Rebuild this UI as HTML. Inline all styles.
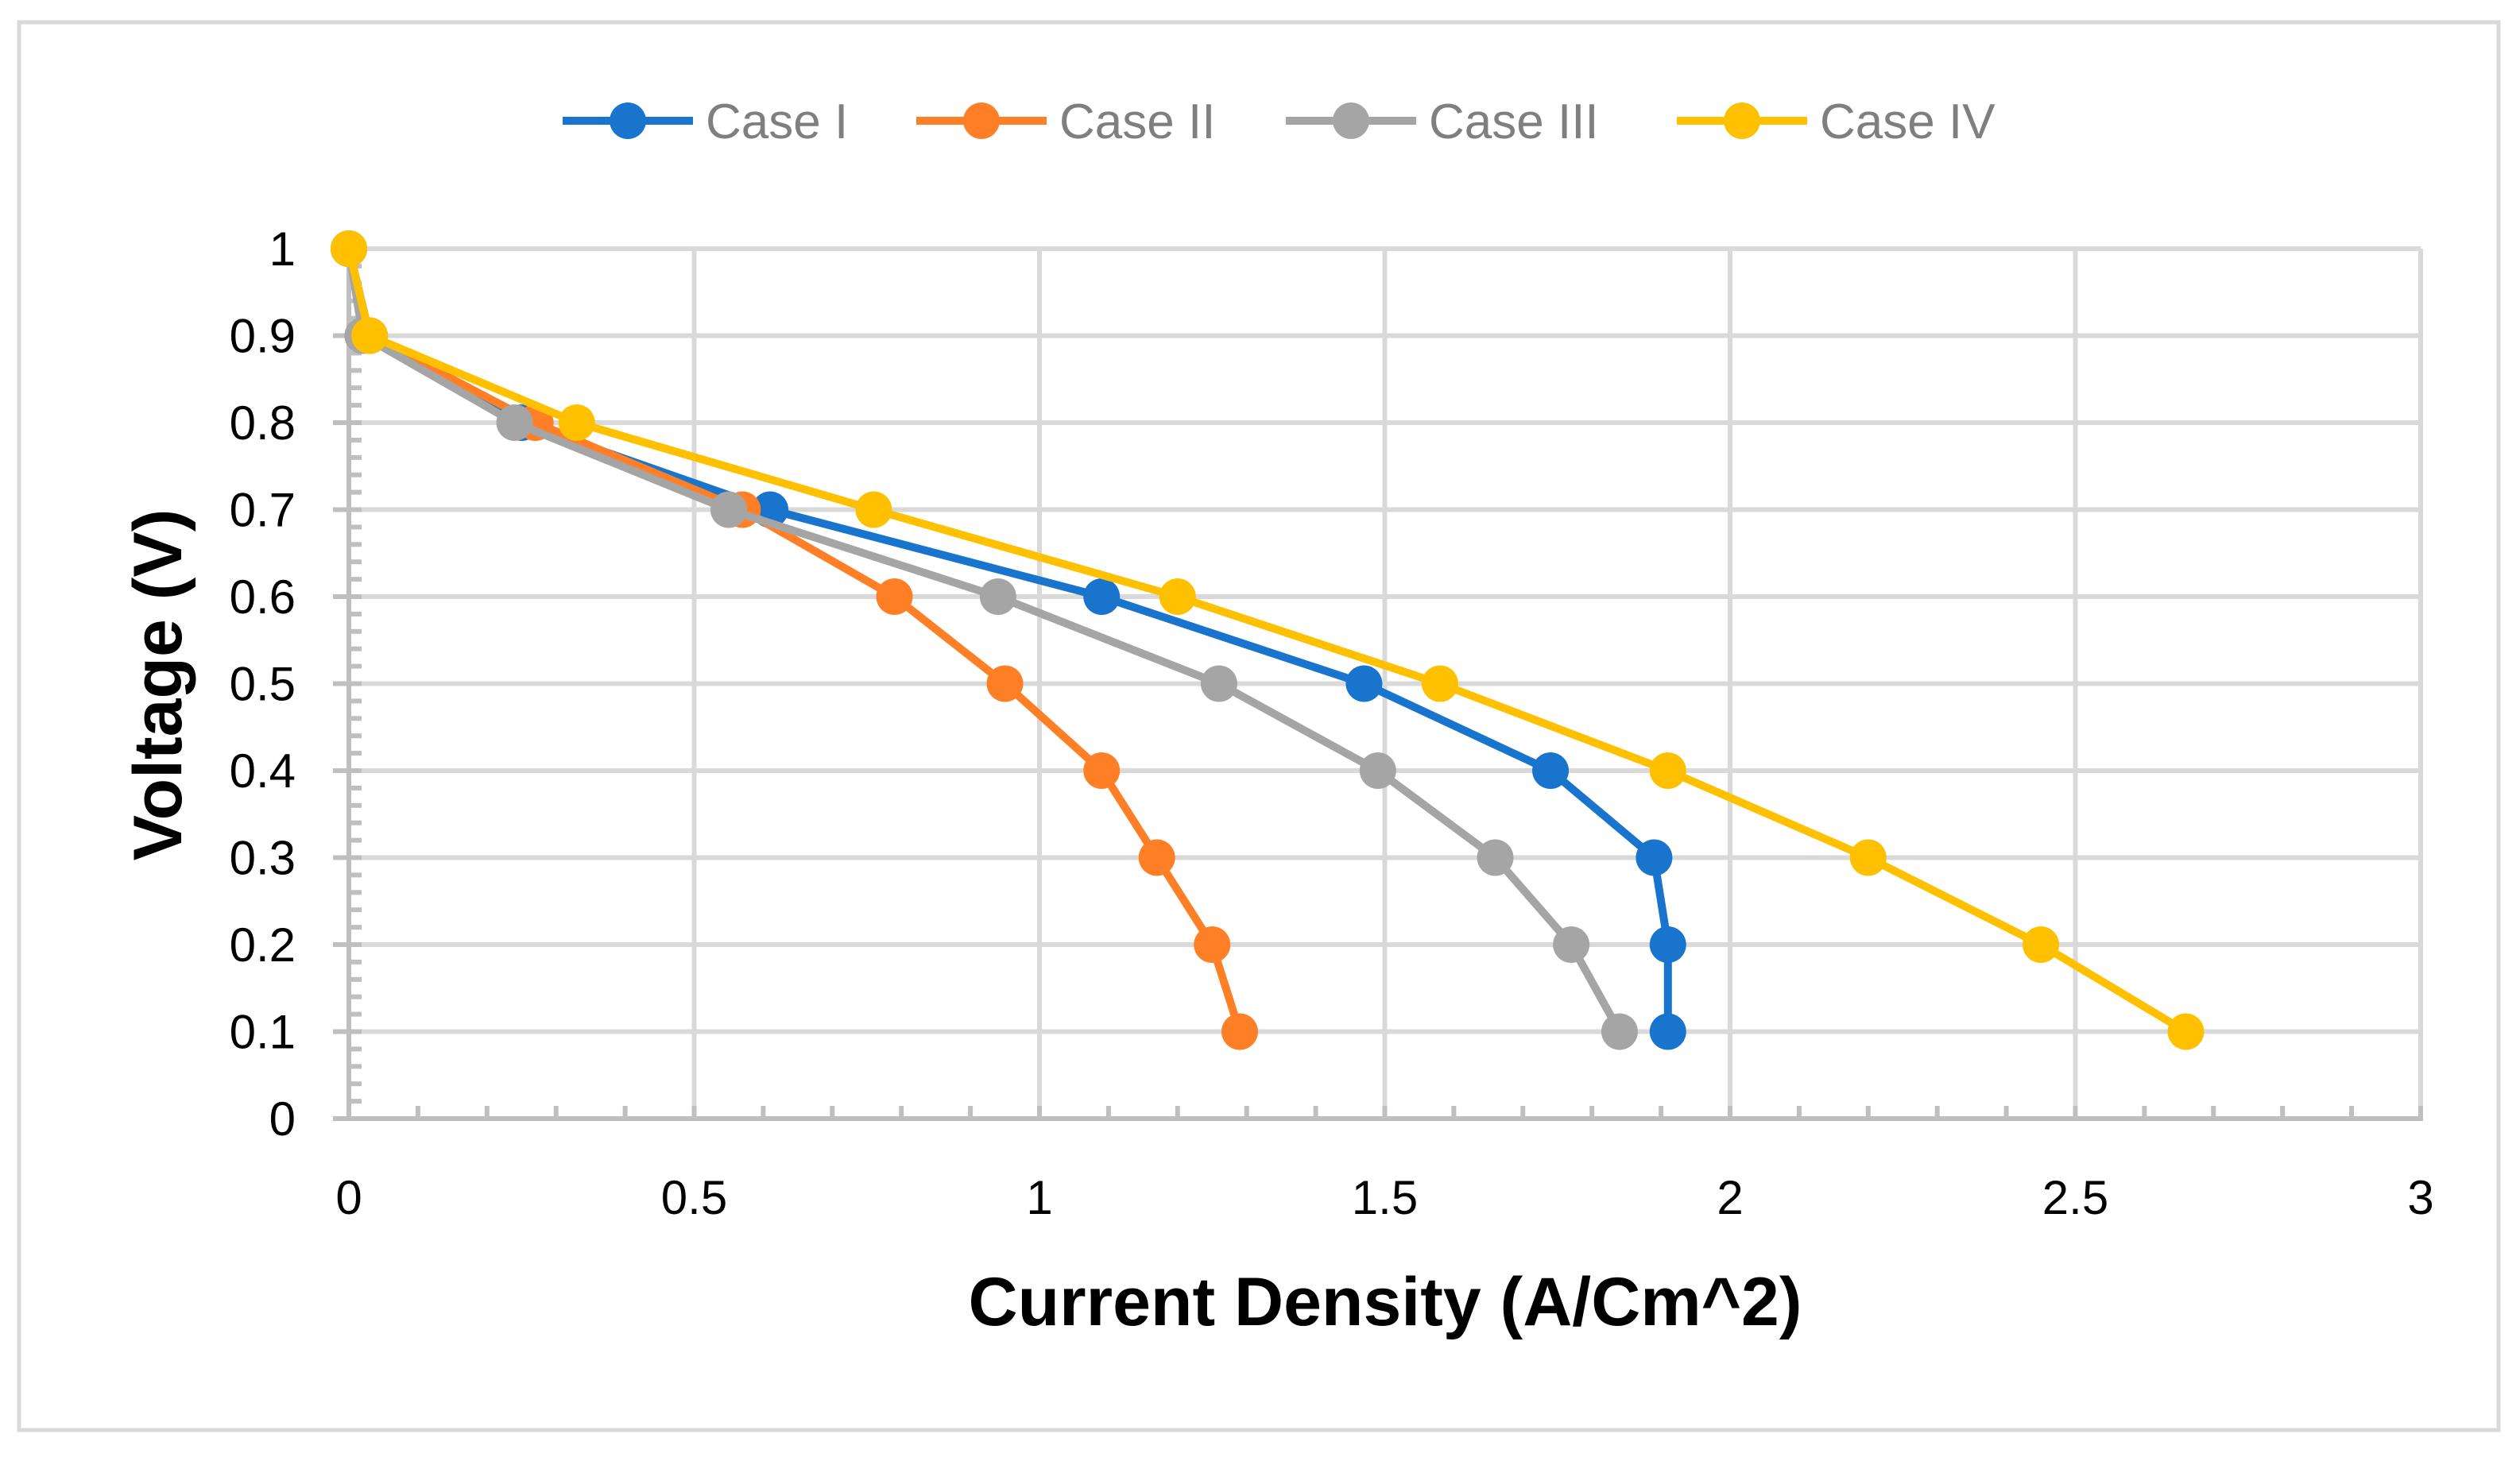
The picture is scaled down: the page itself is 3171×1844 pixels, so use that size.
<!DOCTYPE html>
<html><head><meta charset="utf-8"><style>
html,body{margin:0;padding:0;background:#fff}
svg{display:block}
text{font-family:"Liberation Sans",sans-serif}
</style></head><body>
<svg id="chart" width="3171" height="1844" viewBox="0 0 3171 1844" xmlns="http://www.w3.org/2000/svg">
<rect x="24" y="28" width="3120" height="1772" fill="#fff" stroke="#d9d9d9" stroke-width="5"/>
<g id="grid"></g>
<g id="axes"></g>
<g id="series"></g>
<g id="legend"></g>
<text x="1743" y="1668" font-size="86" font-weight="bold" text-anchor="middle" fill="#000">Current Density (A/Cm^2)</text>
<text transform="translate(228,862) rotate(-90)" font-size="86" font-weight="bold" text-anchor="middle" fill="#000">Voltage (V)</text>
</svg>
<script>
const seriesNames = ["Case I","Case II","Case III","Case IV"];
const seriesColors = ["#1874cd","#ff7f27","#a5a5a5","#ffc000"];
const voltages = [1,0.9,0.8,0.7,0.6,0.5,0.4,0.3,0.2,0.1];
const caseI = [0,0.03,0.25,0.61,1.09,1.47,1.74,1.89,1.91,1.91];
const caseII = [0,0.03,0.27,0.57,0.79,0.95,1.09,1.17,1.25,1.29];
const caseIII = [0,0.02,0.24,0.55,0.94,1.26,1.49,1.66,1.77,1.84];
const caseIV = [0,0.03,0.33,0.76,1.2,1.58,1.91,2.2,2.45,2.66];
const xTicks = ["0","0.5","1","1.5","2","2.5","3"];
const yTicks = ["0","0.1","0.2","0.3","0.4","0.5","0.6","0.7","0.8","0.9","1"];

const NS="http://www.w3.org/2000/svg";
const X0=439,X1=3046,Y0=1408,Y1=313,XMAX=3,YMAX=1;
const sx=v=>X0+(X1-X0)*v/XMAX;
const sy=v=>Y0-(Y0-Y1)*v/YMAX;
function mk(tag,attrs,parent){const e=document.createElementNS(NS,tag);for(const k in attrs)e.setAttribute(k,attrs[k]);parent.appendChild(e);return e;}
const grid=document.getElementById('grid'),axes=document.getElementById('axes'),ser=document.getElementById('series'),leg=document.getElementById('legend');

yTicks.forEach(t=>{const v=parseFloat(t);const y=sy(v);
 if(v>0){const l=mk('line',{x1:X0,x2:X1,y1:y,y2:y,stroke:'#d9d9d9','stroke-width':6},grid);
 
 }
 const tx=mk('text',{x:372,y:y+21,'font-size':60,'text-anchor':'end',fill:'#000'},axes);tx.textContent=t;
 
 
 const mj=mk('line',{x1:X0-20,x2:X0+16,y1:y,y2:y,stroke:'#bfbfbf','stroke-width':6},axes);
 
 
});
xTicks.forEach(t=>{const v=parseFloat(t);const x=sx(v);
 if(v>0){const l=mk('line',{x1:x,x2:x,y1:Y0,y2:Y1,stroke:'#d9d9d9','stroke-width':6},grid);
 
 }
 const tx=mk('text',{x:x,y:1528,'font-size':60,'text-anchor':'middle',fill:'#000'},axes);tx.textContent=t;
 
 
});
for(let i=1;i<50;i++){if(i%5===0)continue;const y=sy(i*0.02);
 const m=mk('line',{x1:X0,x2:X0+16,y1:y,y2:y,stroke:'#bfbfbf','stroke-width':6},axes);
 
 }
for(let i=1;i<=30;i++){const x=sx(i*0.1);
 const m=mk('line',{x1:x,x2:x,y1:Y0,y2:Y0-16,stroke:'#bfbfbf','stroke-width':6},axes);
 
 }
const ax=mk('line',{x1:X0-20,x2:X1+3,y1:Y0,y2:Y0,stroke:'#bfbfbf','stroke-width':6},axes);


const ay=mk('line',{x1:X0,x2:X0,y1:Y0,y2:Y1,stroke:'#bfbfbf','stroke-width':6},axes);



const allSeries=[caseI,caseII,caseIII,caseIV];
allSeries.forEach((xs,si)=>{
 const g=mk('g',{},ser);
 
 
 const pts=xs.map((x,i)=>sx(x)+','+sy(voltages[i])).join(' ');
 const pl=mk('polyline',{points:pts,fill:'none',stroke:seriesColors[si],'stroke-width':10,'stroke-linejoin':'round'},g);
 
 
 xs.forEach((x,i)=>{const c=mk('circle',{cx:sx(x),cy:sy(voltages[i]),r:23,fill:seriesColors[si]},g);
  
  });
});

const legX=[708,1153,1618,2110],LY=152;
seriesNames.forEach((n,i)=>{
 const g=mk('g',{},leg);
 
 
 mk('line',{x1:legX[i],x2:legX[i]+164,y1:LY,y2:LY,stroke:seriesColors[i],'stroke-width':10},g);
 mk('circle',{cx:legX[i]+82,cy:LY,r:23,fill:seriesColors[i]},g);
 const t=mk('text',{x:legX[i]+180,y:LY+22,'font-size':62,fill:'#7f7f7f'},g);t.textContent=n;
});
</script>
</body></html>
